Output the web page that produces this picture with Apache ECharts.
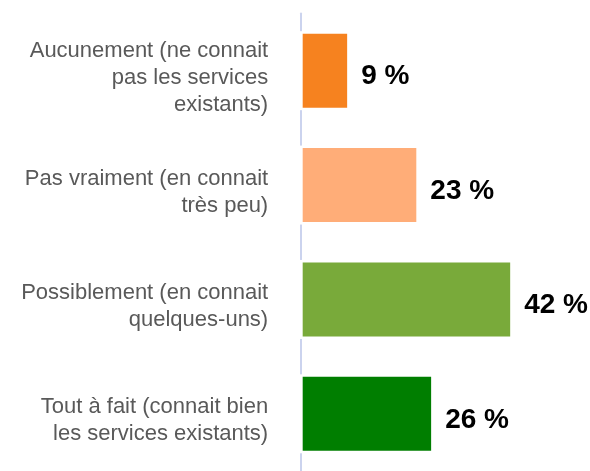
<!DOCTYPE html>
<html>
<head>
<meta charset="utf-8">
<script src="https://cdn.jsdelivr.net/npm/echarts@6/dist/echarts.min.js"></script>
<style>
  html, body { margin: 0; padding: 0; background: #fff; }
  #chart { width: 590px; height: 471px; }
</style>
</head>
<body>
<div id="chart"></div>
<script>
// Answer categories, top to bottom
const categories = [
  'Aucunement (ne connait\npas les services\nexistants)',
  'Pas vraiment (en connait\ntrès peu)',
  'Possiblement (en connait\nquelques-uns)',
  'Tout à fait (connait bien\nles services existants)'
];
// Share of respondents, in percent
const values = [9, 23, 42, 26];
// One fill per answer
const barColors = ['#F6821F', '#FFAD78', '#79AA3A', '#007E00'];
// Small white stubs left of zero that break the axis line beside each bar
const gapStubs = [-0.9, -0.9, -0.9, -0.9];

const FONT = "'Liberation Sans', Arial, Helvetica, sans-serif";

const chart = echarts.init(document.getElementById('chart'), null, { renderer: 'canvas' });

chart.setOption({
  animation: false,
  backgroundColor: '#ffffff',
  grid: { left: 301.2, top: 13.5, width: 248.5, height: 463, containLabel: false },
  xAxis: {
    type: 'value',
    min: -0.3,
    max: 50,
    show: false,
    splitLine: { show: false }
  },
  yAxis: [{
    type: 'category',
    data: categories,
    inverse: true,
    z: 0,
    axisLine: { show: true, onZero: false, lineStyle: { color: '#CBD3EE', width: 2 } },
    axisTick: { show: false },
    axisLabel: {
      margin: 33,
      color: '#595959',
      fontFamily: FONT,
      fontSize: 22,
      lineHeight: 27,
      align: 'right',
      formatter: v => '{s| }\n' + v,
      rich: { s: { fontSize: 2, lineHeight: 14 } }
    }
  }, {
    type: 'category',
    data: categories,
    inverse: true,
    show: false
  }],
  series: [{
    type: 'bar',
    yAxisIndex: 1,
    barWidth: 79,
    clip: false,
    silent: true,
    z: 3,
    itemStyle: { color: '#ffffff' },
    data: gapStubs
  }, {
    type: 'bar',
    yAxisIndex: 0,
    barWidth: 74,
    z: 4,
    data: values.map((v, i) => ({
      value: v,
      itemStyle: { color: barColors[i] }
    })),
    label: {
      show: true,
      position: 'right',
      distance: 14,
      offset: [0, 6],
      color: '#000000',
      fontFamily: FONT,
      fontSize: 28,
      fontWeight: 'bold',
      formatter: p => p.value + ' %'
    }
  }]
});
</script>
</body>
</html>
